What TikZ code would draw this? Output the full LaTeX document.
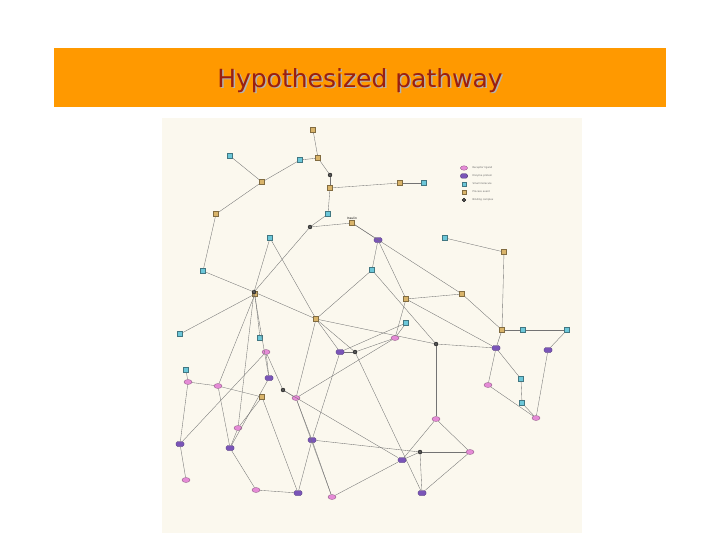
\documentclass[tikz,border=0pt]{standalone}
\usepackage{fontspec}
\setmainfont{DejaVu Sans}
\usetikzlibrary{shapes.geometric}
\definecolor{barorange}{HTML}{FF9900}
\definecolor{titlered}{HTML}{9A1F10}
\definecolor{cream}{HTML}{FBF8EE}
\definecolor{ntan}{HTML}{D9B46A}
\definecolor{ncyan}{HTML}{6CC7D9}
\definecolor{npink}{HTML}{E58BD6}
\definecolor{npurple}{HTML}{7A55B8}
\definecolor{ndark}{HTML}{555555}
\tikzset{
 x=1pt,y=-1pt,
 tan/.style={draw=ntan!60!black,fill=ntan,minimum size=5pt,inner sep=0pt,line width=0.3pt},
 cyan/.style={draw=ncyan!60!black,fill=ncyan,minimum size=5pt,inner sep=0pt,line width=0.3pt},
 pink/.style={ellipse,draw=npink!60!black,fill=npink,minimum width=8pt,minimum height=5pt,inner sep=0pt,line width=0.3pt},
 purple/.style={rounded corners=1.5pt,draw=npurple!60!black,fill=npurple,minimum width=8pt,minimum height=5pt,inner sep=0pt,line width=0.3pt},
 dark/.style={circle,draw=black,fill=ndark,minimum size=4pt,inner sep=0pt,line width=0.3pt},
 edge/.style={draw=black!55,line width=0.35pt},
 legtxt/.style={font=\fontsize{2.5}{3}\selectfont,anchor=west,text=black!60}
}
\begin{document}
\begin{tikzpicture}
\useasboundingbox (0,0) rectangle (720,540);
\fill[white] (0,0) rectangle (720,540);
\fill[barorange] (54,48) rectangle (666,107);
\node[text=black!30,font=\fontsize{25}{30}\selectfont] (ts) at (361.5,82) {Hypothesized pathway};
\node[text=titlered,font=\fontsize{25}{30}\selectfont] (title) at (360,80.5) {Hypothesized pathway};
\fill[cream] (162,118) rectangle (582,533);
% nodes
\foreach \n/\x/\y/\s in {
 t1/313/130/tan,t2/318/158/tan,t3/400/183/tan,t4/262/182/tan,t5/330/188/tan,t6/216/214/tan,t7/352/223/tan,
 t8/504/252/tan,t9/316/319/tan,t10/262/397/tan,t11/406/299/tan,t12/502/330/tan,t13/462/294/tan,t14/255/294/tan,
 c1/230/156/cyan,c2/300/160/cyan,c3/424/183/cyan,c4/270/238/cyan,c5/445/238/cyan,c6/203/271/cyan,c7/180/334/cyan,
 c8/260/338/cyan,c9/523/330/cyan,c10/567/330/cyan,c11/406/323/cyan,c12/521/379/cyan,c13/522/403/cyan,c14/186/370/cyan,
 c15/328/214/cyan,c16/372/270/cyan,
 p1/188/382/pink,p2/218/386/pink,p3/266/352/pink,p4/238/428/pink,p5/296/398/pink,p6/488/385/pink,p7/536/418/pink,
 p8/395/338/pink,p9/436/419/pink,p10/186/480/pink,p11/256/490/pink,p12/470/452/pink,p13/332/497/pink,
 u1/378/240/purple,u2/230/448/purple,u3/269/378/purple,u4/312/440/purple,u5/402/460/purple,u6/298/493/purple,
 u7/422/493/purple,u8/496/348/purple,u9/180/444/purple,u10/340/352/purple,u11/548/350/purple,
 d1/310/227/dark,d2/330/175/dark,d3/283/390/dark,d4/420/452/dark,d5/355/352/dark,d6/254/292/dark,d7/436/344/dark}
 \node[\s] (\n) at (\x,\y) {};
% edges
\foreach \a/\b in {t1/t2,t2/c2,t2/d2,d2/t5,t5/t3,t3/c3,c1/t4,t4/t6,t6/c6,c2/t4,t5/c15,c15/d1,d1/t7,t7/u1,u1/c16,
 c4/d6,c6/d6,d6/t14,t14/c7,t14/c8,d6/u3,d6/t9,t9/d5,d5/p8,p8/t11,t11/t13,t13/t12,t12/c9,c9/c10,t12/u8,u8/p6,
 c5/t8,t8/t12,u1/t11,c16/d7,d7/p9,p9/u5,u5/d4,d4/u7,u7/p12,p12/p9,u3/p3,p3/d3,d3/p5,p5/u4,u4/p13,u4/u6,u6/p11,
 p11/u2,u2/p4,p4/t10,t10/p2,p2/p1,p1/c14,p1/u9,u9/p10,p2/u2,t9/u10,u10/d5,u10/u4,d3/u5,c11/p8,c11/u10,
 t9/d7,d7/u8,u8/c12,c12/c13,c13/p7,p7/u11,u11/c10,t14/p2,d6/p4,t9/p5,p5/p13,p13/u5,u3/u2,c16/t9,d1/d6,
 t7/t13,c4/t9,t11/u8,p6/p7,t10/u6,u4/d4,d4/p12,p8/p5,p3/u9,d5/u7}
 \draw[edge] (\a)--(\b);
% legend
\foreach \n/\y/\s/\t in {l1/168/pink/Receptor ligand,l2/176/purple/Enzyme protein,l3/184/cyan/Small molecule,l4/192/tan/Process event,l5/200/dark/Binding complex}{
 \node[\s,scale=0.9] (\n) at (464,\y) {};
 \node[legtxt] (\n t) at (469,\y) {\t};
}
\node[font=\fontsize{3}{3}\selectfont] (ins) at (352,218) {Insulin};
\end{tikzpicture}
\end{document}
